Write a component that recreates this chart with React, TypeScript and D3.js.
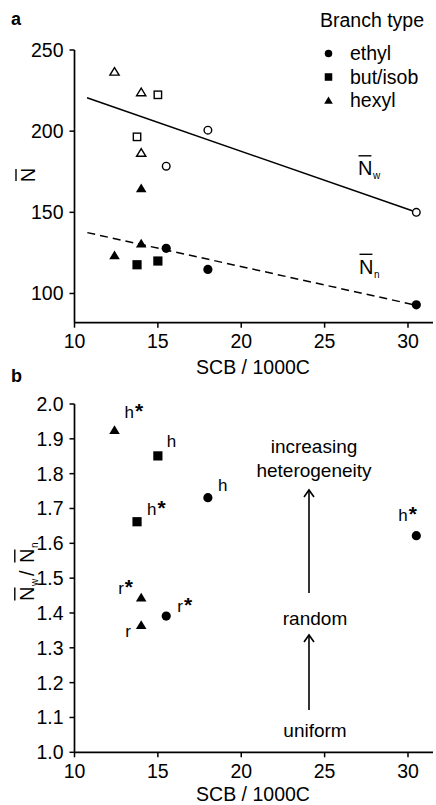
import React from 'react';
import * as d3 from 'd3';

// ---------- data ----------
const xTicks = [10, 15, 20, 25, 30];
const yTicksA = [100, 150, 200, 250];
const yTicksB = [1.0, 1.1, 1.2, 1.3, 1.4, 1.5, 1.6, 1.7, 1.8, 1.9, 2.0];

// panel a : Nw (open symbols) and Nn (filled symbols)
const ethylSCB = [15.5, 18.0, 30.5];
const ethylNw = [178.4, 200.6, 150.0];
const ethylNn = [127.8, 114.8, 93.0];
const butSCB = [13.75, 15.0];
const butNw = [196.5, 222.4];
const butNn = [117.7, 120.0];
const hexSCB = [12.4, 14.0, 14.0];
const hexNw = [236.6, 223.9, 186.6];
const hexNn = [123.5, 164.8, 130.7];

// regression lines (SCB, N)
const nwFit: [number, number][] = [[10.75, 220.6], [30.3, 150.8]];
const nnFit: [number, number][] = [[10.77, 137.5], [30.3, 93.2]];

// panel b : Nw/Nn ratio
const ethylRatio = [1.391, 1.731, 1.622];
const ethylLabels = ['r', 'h', 'h'];
const ethylStar = [true, false, true];
const butRatio = [1.662, 1.851];
const butLabels = ['h', 'h'];
const butStar = [true, false];
const hexRatio = [1.925, 1.365, 1.444];
const hexLabels = ['h', 'r', 'r'];
const hexStar = [true, false, true];

const legendItems = ['ethyl', 'but/isob', 'hexyl'];

// ---------- layout ----------
const W = 436, H = 805;
const FONT = '"Liberation Sans", Arial, Helvetica, sans-serif';
const xA = d3.scaleLinear().domain([10, 31.5]).range([74.5, 433]);
const yA = d3.scaleLinear().domain([82, 250]).range([322.7, 50]);
const xB = xA;
const yB = d3.scaleLinear().domain([1, 2]).range([752.3, 404]);

type Shape = 'circle' | 'square' | 'triangle';

function Marker({ x, y, shape, open, s = 1 }: { x: number; y: number; shape: Shape; open?: boolean; s?: number }) {
  const fill = open ? '#fff' : '#000';
  const stroke = '#000';
  const sw = open ? 1.4 : 0;
  if (shape === 'circle') {
    const r = (open ? 3.8 : 4.6) * s;
    return <circle cx={x} cy={y} r={r} fill={fill} stroke={stroke} strokeWidth={sw} />;
  }
  if (shape === 'square') {
    const h = (open ? 3.7 : 4.6) * s;
    return <rect x={x - h} y={y - h} width={2 * h} height={2 * h} fill={fill} stroke={stroke} strokeWidth={sw} />;
  }
  const h = (open ? 4.2 : 4.8) * s;
  const p = `M${x},${y - h}L${x + h * 1.1},${y + h * 0.8}L${x - h * 1.1},${y + h * 0.8}Z`;
  return <path d={p} fill={fill} stroke={stroke} strokeWidth={sw} strokeLinejoin="miter" />;
}

function Arrow({ x, y1, y2 }: { x: number; y1: number; y2: number }) {
  return (
    <g stroke="#000" strokeWidth={1.6} fill="none">
      <line x1={x} y1={y1} x2={x} y2={y2} />
      <path d={`M${x - 5},${y2 + 7}L${x},${y2}L${x + 5},${y2 + 7}`} />
    </g>
  );
}

function NBar({ x, y, sub, size = 20 }: { x: number; y: number; sub?: string; size?: number }) {
  const w = size * 0.72;
  return (
    <g>
      <text x={x} y={y} fontSize={size} fontFamily={FONT}>N</text>
      <line x1={x + 0.5} x2={x + w - 1} y1={y - size * 0.96} y2={y - size * 0.96} stroke="#000" strokeWidth={1.4} />
      {sub && <text x={x + w + 0.5} y={y + 4} fontSize={size * 0.5} fontFamily={FONT}>{sub}</text>}
    </g>
  );
}

function PtLabel({ x, y, t, star, anchor = 'start' }: { x: number; y: number; t: string; star: boolean; anchor?: string }) {
  return (
    <text x={x} y={y} fontSize={17} fontFamily={FONT} textAnchor={anchor as any}>
      {t}
      {star && <tspan fontSize={21} fontWeight="bold" dx={1}>*</tspan>}
    </text>
  );
}

function XAxis({ y, labelOffset }: { y: number; labelOffset: number }) {
  return (
    <g>
      <line x1={xA.range()[0]} x2={xA.range()[1]} y1={y} y2={y} stroke="#000" strokeWidth={1.7} />
      {xTicks.map((t) => (
        <g key={t}>
          <line x1={xA(t)} x2={xA(t)} y1={y} y2={y + 5} stroke="#000" strokeWidth={1.5} />
          <text x={xA(t)} y={y + 25.5} textAnchor="middle" fontSize={19.5} fontFamily={FONT}>{t}</text>
        </g>
      ))}
      <text x={253} y={y + labelOffset} textAnchor="middle" fontSize={19.5} fontFamily={FONT}>SCB / 1000C</text>
    </g>
  );
}

export default function App() {
  const lineGen = d3.line<[number, number]>().x((d) => xA(d[0])).y((d) => yA(d[1]));
  const axX = xA.range()[0];
  return (
    <svg width={W} height={H} style={{ position: 'absolute', left: 0, top: 0, background: '#fff' }}>
      <rect width={W} height={H} fill="#fff" />
      {/* ===== panel a ===== */}
      <text x={11} y={25} fontSize={18} fontWeight="bold" fontFamily={FONT}>a</text>
      <line x1={axX} x2={axX} y1={yA.range()[1]} y2={yA.range()[0]} stroke="#000" strokeWidth={1.7} />
      {yTicksA.map((t) => (
        <g key={t}>
          <line x1={axX - 5} x2={axX} y1={yA(t)} y2={yA(t)} stroke="#000" strokeWidth={1.5} />
          <text x={63.5} y={yA(t) + 7} textAnchor="end" fontSize={19.5} fontFamily={FONT}>{t}</text>
        </g>
      ))}
      <XAxis y={yA.range()[0]} labelOffset={51} />
      <g transform="translate(35,175) rotate(-90)">
        <text x={0} y={0} textAnchor="middle" fontSize={20} fontFamily={FONT}>N</text>
        <line x1={-6} x2={6} y1={-19} y2={-19} stroke="#000" strokeWidth={1.4} />
      </g>
      <path d={lineGen(nwFit) || ''} stroke="#000" strokeWidth={1.5} fill="none" />
      <path d={lineGen(nnFit) || ''} stroke="#000" strokeWidth={1.5} fill="none" strokeDasharray="8,5" />
      {ethylSCB.map((s, i) => <Marker key={'ew' + i} x={xA(s)} y={yA(ethylNw[i])} shape="circle" open />)}
      {butSCB.map((s, i) => <Marker key={'bw' + i} x={xA(s)} y={yA(butNw[i])} shape="square" open />)}
      {hexSCB.map((s, i) => <Marker key={'hw' + i} x={xA(s)} y={yA(hexNw[i])} shape="triangle" open />)}
      {ethylSCB.map((s, i) => <Marker key={'en' + i} x={xA(s)} y={yA(ethylNn[i])} shape="circle" />)}
      {butSCB.map((s, i) => <Marker key={'bn' + i} x={xA(s)} y={yA(butNn[i])} shape="square" />)}
      {hexSCB.map((s, i) => <Marker key={'hn' + i} x={xA(s)} y={yA(hexNn[i])} shape="triangle" />)}
      <NBar x={358} y={175} sub="w" />
      <NBar x={359} y={273.5} sub="n" />
      {/* legend */}
      <text x={320} y={27} fontSize={19.5} fontFamily={FONT}>Branch type</text>
      {legendItems.map((l, i) => (
        <g key={l}>
          <Marker x={328.5} y={53.5 + i * 23.5} shape={(['circle', 'square', 'triangle'] as Shape[])[i]} s={0.82} />
          <text x={350} y={60 + i * 23.5} fontSize={19.5} fontFamily={FONT}>{l}</text>
        </g>
      ))}

      {/* ===== panel b ===== */}
      <text x={11} y={382} fontSize={18} fontWeight="bold" fontFamily={FONT}>b</text>
      <line x1={axX} x2={axX} y1={yB.range()[1]} y2={yB.range()[0]} stroke="#000" strokeWidth={1.7} />
      {yTicksB.map((t) => (
        <g key={t}>
          <line x1={axX - 5} x2={axX} y1={yB(t)} y2={yB(t)} stroke="#000" strokeWidth={1.5} />
          <text x={63.5} y={yB(t) + 7} textAnchor="end" fontSize={19.5} fontFamily={FONT}>{t.toFixed(1)}</text>
        </g>
      ))}
      <XAxis y={yB.range()[0]} labelOffset={48.5} />
      <g transform="translate(34,570) rotate(-90)">
        <NBar x={-31} y={0} sub="w" />
        <text x={-6} y={0} fontSize={20} fontFamily={FONT}>/</text>
        <NBar x={7} y={0} sub="n" />
      </g>
      {ethylSCB.map((s, i) => <Marker key={'er' + i} x={xB(s)} y={yB(ethylRatio[i])} shape="circle" />)}
      {butSCB.map((s, i) => <Marker key={'br' + i} x={xB(s)} y={yB(butRatio[i])} shape="square" />)}
      {hexSCB.map((s, i) => <Marker key={'hr' + i} x={xB(s)} y={yB(hexRatio[i])} shape="triangle" />)}
      {/* point labels */}
      <PtLabel x={xB(ethylSCB[0]) + 11} y={yB(ethylRatio[0]) - 4} t={ethylLabels[0]} star={ethylStar[0]} />
      <PtLabel x={xB(ethylSCB[1]) + 10} y={yB(ethylRatio[1]) - 7} t={ethylLabels[1]} star={ethylStar[1]} />
      <PtLabel x={xB(ethylSCB[2]) - 18} y={yB(ethylRatio[2]) - 15} t={ethylLabels[2]} star={ethylStar[2]} />
      <PtLabel x={xB(butSCB[0]) + 10} y={yB(butRatio[0]) - 7} t={butLabels[0]} star={butStar[0]} />
      <PtLabel x={xB(butSCB[1]) + 9} y={yB(butRatio[1]) - 9} t={butLabels[1]} star={butStar[1]} />
      <PtLabel x={xB(hexSCB[0]) + 10} y={yB(hexRatio[0]) - 12} t={hexLabels[0]} star={hexStar[0]} />
      <PtLabel x={xB(hexSCB[1]) - 16} y={yB(hexRatio[1]) + 12} t={hexLabels[1]} star={hexStar[1]} />
      <PtLabel x={xB(hexSCB[2]) - 23} y={yB(hexRatio[2]) - 4} t={hexLabels[2]} star={hexStar[2]} />
      {/* annotations */}
      <text x={314} y={453} textAnchor="middle" fontSize={19} fontFamily={FONT}>increasing</text>
      <text x={314} y={476.5} textAnchor="middle" fontSize={19} fontFamily={FONT}>heterogeneity</text>
      <Arrow x={309} y1={593} y2={490} />
      <text x={315} y={625} textAnchor="middle" fontSize={19} fontFamily={FONT}>random</text>
      <Arrow x={309} y1={710} y2={635} />
      <text x={315} y={736.5} textAnchor="middle" fontSize={19} fontFamily={FONT}>uniform</text>
    </svg>
  );
}
